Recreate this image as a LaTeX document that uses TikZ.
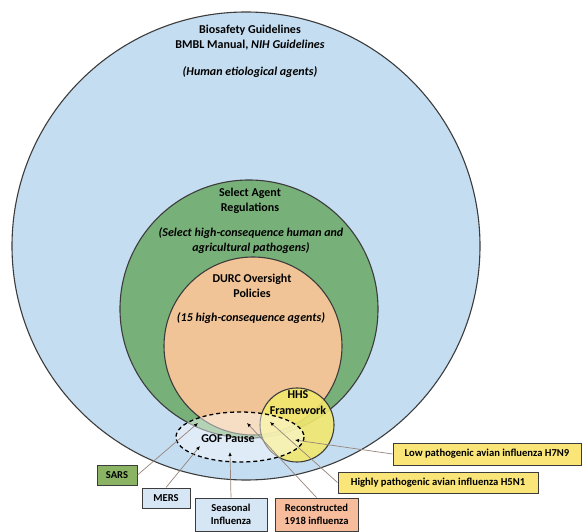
\documentclass[tikz,border=0pt]{standalone}
\usepackage{fontspec}
\setmainfont{Carlito}
\usepackage{tikz}
\usetikzlibrary{arrows.meta,positioning,calc}
\definecolor{bioblue}{RGB}{197,221,241}
\definecolor{selgreen}{RGB}{120,176,122}
\definecolor{durcpeach}{RGB}{240,196,150}
\definecolor{hhsyellow}{RGB}{242,232,110}
\definecolor{sarsgreen}{RGB}{138,180,100}
\definecolor{boxblue}{RGB}{214,230,244}
\definecolor{reconpink}{RGB}{246,188,156}
\definecolor{avianyellow}{RGB}{250,230,120}
\definecolor{pointergray}{RGB}{150,132,124}
\definecolor{rimgray}{RGB}{60,60,60}
\tikzset{
  ring/.style={draw=rimgray, line width=1.1pt},
  heading/.style={font=\fontsize{12}{15}\selectfont\bfseries, align=center},
  note/.style={font=\fontsize{12}{15}\selectfont\bfseries\itshape, align=center},
  labelbox/.style={draw=rimgray, line width=1pt, font=\fontsize{10.6}{13}\selectfont\bfseries,
    inner sep=2pt, align=center},
  pointer/.style={draw=pointergray, line width=0.7pt, -{Latex[length=4pt,width=3.5pt,color=black]}},
}

\begin{document}
\begin{tikzpicture}[x=1pt,y=-1pt]
\useasboundingbox (0,0) rectangle (582,532);
\filldraw[ring, fill=bioblue] (246,246) circle [radius=234];
\filldraw[ring, fill=selgreen] (249,309) circle [radius=129];
\filldraw[ring, fill=durcpeach] (253,346) circle [radius=89];
\filldraw[ring, fill=hhsyellow, fill opacity=0.9] (297,425) circle [radius=37];
\filldraw[draw=black, line width=1.3pt, dash pattern=on 4pt off 3pt, fill=white, fill opacity=0.45]
  (240,437) ellipse [x radius=64, y radius=25];

\node[heading] (biotitle) at (250,37.5) {Biosafety Guidelines\\BMBL Manual, \textit{NIH Guidelines}};
\node[note] (bionote) at (250,72) {(Human etiological agents)};
\node[heading] (seltitle) at (250,200.5) {Select Agent\\Regulations};
\node[note] (selnote) at (251,240.5) {(Select high-consequence human and\\agricultural pathogens)};
\node[heading] (durctitle) at (252,285.5) {DURC Oversight\\Policies};
\node[note] (durcnote) at (251,318) {(15 high-consequence agents)};
\node[heading, font=\fontsize{12}{16}\selectfont\bfseries] (hhstitle) at (298,403) {HHS\\Framework};
\node[heading] (goftitle) at (228,439) {GOF Pause};

\coordinate (sarstip) at (198,423);
\coordinate (merstip) at (200,446);
\coordinate (seasontip) at (230,452);
\coordinate (recontip) at (247,423);
\coordinate (hfivetip) at (270,422);
\coordinate (hseventip) at (295,440);

\node[labelbox, fill=sarsgreen, minimum width=40pt, minimum height=20pt] (sars) at (117,475) {SARS};
\node[labelbox, fill=boxblue, minimum width=48pt, minimum height=20pt] (mers) at (166,498) {MERS};
\node[labelbox, fill=boxblue, minimum width=72pt, minimum height=33pt] (seasonal) at (231,514.5) {Seasonal\\Influenza};
\node[labelbox, fill=reconpink, minimum width=83pt, minimum height=33pt] (recon) at (316.5,514.5) {Reconstructed\\1918 influenza};
\node[labelbox, fill=avianyellow, minimum width=188pt, minimum height=22pt] (hseven) at (487,454) {Low pathogenic avian influenza H7N9};
\node[labelbox, fill=avianyellow, minimum width=200pt, minimum height=21pt] (hfive) at (438,482.5) {Highly pathogenic avian influenza H5N1};

\draw[pointer] (sars.east) -- (sarstip);
\draw[pointer] (mers.north) -- (merstip);
\draw[pointer] (seasonal.north) -- (seasontip);
\draw[pointer] (recon.north) -- (recontip);
\draw[pointer] (hfive.west) -- (hfivetip);
\draw[pointer] (hseven.west) -- (hseventip);
\end{tikzpicture}
\end{document}
